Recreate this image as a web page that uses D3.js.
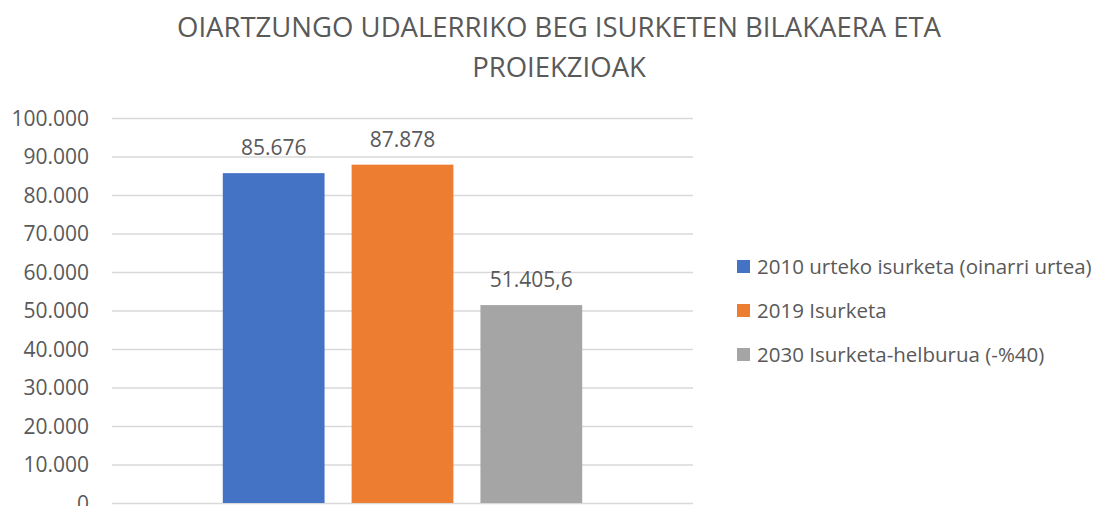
<!DOCTYPE html>
<html>
<head>
<meta charset="utf-8">
<script src="https://cdn.jsdelivr.net/npm/d3@7"></script>
<style>
  body { margin: 0; background: #fff; }
  text { font-family: "Open Sans", sans-serif; fill: #595959; }
  .grid line { stroke: #d9d9d9; stroke-width: 1.5; }
</style>
</head>
<body>
<div id="chart"></div>
<script>
var titleLines = ['OIARTZUNGO UDALERRIKO BEG ISURKETEN BILAKAERA ETA', 'PROIEKZIOAK'];
var seriesNames = ['2010 urteko isurketa (oinarri urtea)', '2019 Isurketa', '2030 Isurketa-helburua (-%40)'];
var seriesValues = [85676, 87878, 51405.6];
var valueLabels = ['85.676', '87.878', '51.405,6'];
var seriesColors = ['#4472c4', '#ed7d31', '#a5a5a5'];
var yTicks = [0, 10000, 20000, 30000, 40000, 50000, 60000, 70000, 80000, 90000, 100000];

var width = 1105;
var height = 506;
var plot = { left: 112, right: 693, top: 118, bottom: 503 };

var svg = d3.select('#chart').append('svg')
  .attr('width', width)
  .attr('height', height);

// title
svg.append('g').selectAll('text.title').data(titleLines)
  .enter().append('text')
  .attr('class', 'title')
  .attr('x', 559)
  .attr('y', function(d, i) { return 37 + i * 40; })
  .attr('text-anchor', 'middle')
  .style('font-size', '27.5px')
  .text(function(d) { return d; });

var y = d3.scaleLinear().domain([0, 100000]).range([plot.bottom, plot.top]);
var x = d3.scaleBand().domain(seriesNames).range([plot.left, plot.right])
  .paddingInner(0.21).paddingOuter(0.86);

// grid lines
var grid = svg.append('g').attr('class', 'grid')
  .attr('transform', 'translate(' + plot.left + ',0)')
  .call(d3.axisLeft(y).tickValues(yTicks).tickSize(-(plot.right - plot.left)).tickFormat(''));
grid.select('.domain').remove();

// y labels
var fmt = d3.formatLocale({ decimal: ',', thousands: '.', grouping: [3], currency: ['', ''] }).format(',');
svg.append('g').selectAll('text.ytick').data(yTicks)
  .enter().append('text')
  .attr('class', 'ytick')
  .attr('x', 89)
  .attr('y', function(d) { return y(d); })
  .attr('dy', '0.36em')
  .attr('text-anchor', 'end')
  .style('font-size', '21px')
  .text(function(d) { return fmt(d); });

// bars
svg.append('g').selectAll('rect.bar').data(seriesValues)
  .enter().append('rect')
  .attr('class', 'bar')
  .attr('x', function(d, i) { return x(seriesNames[i]); })
  .attr('y', function(d) { return y(d); })
  .attr('width', x.bandwidth())
  .attr('height', function(d) { return y(0) - y(d); })
  .attr('fill', function(d, i) { return seriesColors[i]; });

// value labels
svg.append('g').selectAll('text.value').data(seriesValues)
  .enter().append('text')
  .attr('class', 'value')
  .attr('x', function(d, i) { return x(seriesNames[i]) + x.bandwidth() / 2; })
  .attr('y', function(d) { return y(d) - 18; })
  .attr('text-anchor', 'middle')
  .style('font-size', '21px')
  .text(function(d, i) { return valueLabels[i]; });

// legend
var legend = svg.append('g').selectAll('g.legend').data(seriesNames)
  .enter().append('g')
  .attr('class', 'legend')
  .attr('transform', function(d, i) { return 'translate(737,' + (267 + i * 44) + ')'; });
legend.append('rect')
  .attr('x', 0).attr('y', -7)
  .attr('width', 13).attr('height', 13)
  .attr('fill', function(d, i) { return seriesColors[i]; });
legend.append('text')
  .attr('x', 20)
  .attr('y', 0)
  .attr('dy', '0.36em')
  .style('font-size', '20.5px')
  .text(function(d) { return d; });
</script>
</body>
</html>
